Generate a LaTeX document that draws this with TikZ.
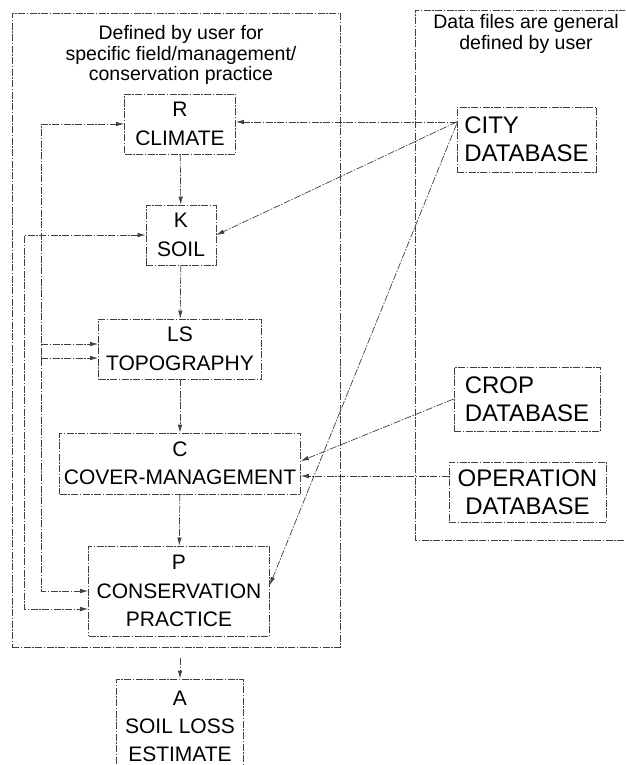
\documentclass[tikz,border=0pt]{standalone}
\usepackage{fontspec}
\setmainfont{Liberation Sans}
\usetikzlibrary{arrows.meta}
\newcommand{\boxfont}{\fontsize{21}{28.5}\selectfont}
\newcommand{\dbfont}{\fontsize{24}{28}\selectfont}
\newcommand{\headfont}{\fontsize{19.5}{20.5}\selectfont}
\tikzset{
  ln/.style={draw=black!75, line width=0.7pt, dash pattern=on 7pt off 1.5pt on 1.5pt off 1.5pt},
  tip/.tip={Latex[length=8pt,width=4.5pt]},
  flow/.style={ln, -tip},
  fbox/.style={ln, rectangle, inner sep=0pt, align=center, font=\boxfont},
  dbox/.style={ln, rectangle, inner sep=0pt, align=left, font=\dbfont},
  container/.style={ln, rectangle, inner sep=0pt},
  head/.style={align=center, font=\headfont, inner sep=0pt}
}
\begin{document}
\begin{tikzpicture}[x=1pt,y=-1pt]
\useasboundingbox (0,0) rectangle (625,765);
\clip (0,0) rectangle (625,765);

% containers
\node[container, minimum width=328pt, minimum height=634pt] (L) at (176,330) {};
\draw[ln] (626,10) -- (415,10) -- (415,540) -- (626,540);

% headers
\node[head] (hl) at (181,55) {Defined by user for\\specific field/management/\\conservation practice};
\node[head] (hr) at (526,34) {Data files are general\\defined by user};

% factor boxes
\node[fbox, minimum width=111pt, minimum height=60pt] (R) at (180,124) {R\\CLIMATE};
\node[fbox, minimum width=70pt, minimum height=60pt] (K) at (181,235) {K\\SOIL};
\node[fbox, minimum width=163pt, minimum height=60pt] (LS) at (180,349) {LS\\TOPOGRAPHY};
\node[fbox, minimum width=241pt, minimum height=61pt] (C) at (180,463.5) {C\\COVER-MANAGEMENT};
\node[fbox, minimum width=181pt, minimum height=90pt] (P) at (179,591) {P\\CONSERVATION\\PRACTICE};
\node[fbox, minimum width=127pt, minimum height=94pt, font=\fontsize{21}{28}\selectfont] (A) at (180,726) {A\\SOIL LOSS\\ESTIMATE};

% database boxes
\node[dbox, minimum width=139pt, minimum height=65pt] (CITY) at (526.5,139.5) {CITY\\DATABASE};
\node[dbox, minimum width=146pt, minimum height=64pt] (CROP) at (527,399) {CROP\\DATABASE};
\node[dbox, align=center, minimum width=157pt, minimum height=60pt] (OP) at (527.5,492) {OPERATION\\DATABASE};

% vertical chain
\draw[flow] (R) -- (K);
\draw[flow] (K) -- (LS);
\draw[flow] (LS) -- (C);
\draw[flow] (C) -- (P);
\coordinate (Lout) at ([yshift=-11pt]L.south -| A.north);
\draw[flow] (Lout) -- (A);

% database links
\coordinate (cw1) at ([yshift=17.5pt]CITY.west);
\coordinate (cw2) at ([yshift=15.5pt]CITY.west);
\draw[flow] (cw1) -- (cw1 -| R.east);
\draw[flow] (cw1) -- (K.east);
\draw[flow] (cw2) -- ([yshift=6pt]P.east);
\draw[flow] (CROP.west) -- ([yshift=2.5pt]C.east);
\coordinate (ow) at ([yshift=16pt]OP.west);
\draw[flow] (ow) -- (ow -| C.east);

% feedback lines
\coordinate (rl) at (41,124);
\coordinate (kl) at (24,235);
\draw[ln, tip-tip] (R.west) -- (rl) |- (P.west);
\draw[ln, tip-tip] (K.west) -- (kl) |- ([yshift=-18pt]P.west);
\coordinate (ls1) at ([yshift=5pt]LS.west);
\coordinate (ls2) at ([yshift=-9pt]LS.west);
\draw[flow] (rl |- ls1) -- (ls1);
\draw[flow] (rl |- ls2) -- (ls2);
\end{tikzpicture}
\end{document}
